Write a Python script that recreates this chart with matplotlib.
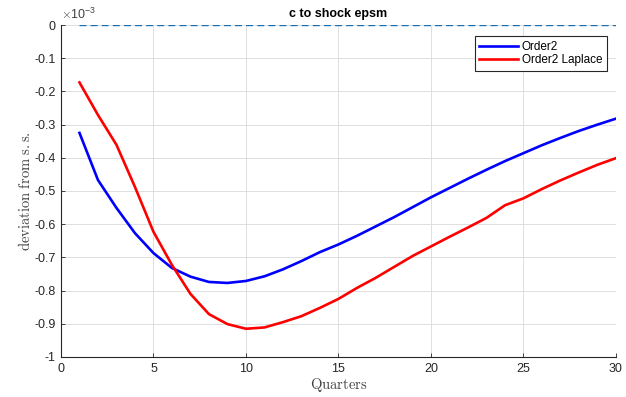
import numpy as np
import matplotlib
matplotlib.use('Agg')
import matplotlib.pyplot as plt

# impulse response values, in units of 1e-3
quarters = list(range(1, 31))
order2 = [-0.325, -0.467, -0.551, -0.627, -0.687, -0.732, -0.758, -0.774, -0.777, -0.771,
          -0.757, -0.736, -0.711, -0.684, -0.661, -0.635, -0.607, -0.579, -0.549, -0.519,
          -0.491, -0.463, -0.436, -0.410, -0.386, -0.362, -0.340, -0.319, -0.300, -0.282]
order2_laplace = [-0.173, -0.271, -0.361, -0.488, -0.623, -0.723, -0.810, -0.871, -0.901, -0.915,
                  -0.911, -0.895, -0.877, -0.852, -0.825, -0.792, -0.762, -0.729, -0.696, -0.667,
                  -0.638, -0.610, -0.581, -0.543, -0.522, -0.494, -0.468, -0.444, -0.421, -0.401]
steady_state = [0.0] * len(quarters)

xticks = [0, 5, 10, 15, 20, 25, 30]
yticks = [0, -0.1, -0.2, -0.3, -0.4, -0.5, -0.6, -0.7, -0.8, -0.9, -1]
ytick_labels = ['0', '-0.1', '-0.2', '-0.3', '-0.4', '-0.5', '-0.6', '-0.7', '-0.8', '-0.9', '-1']

plt.rcParams['font.family'] = ['Liberation Sans', 'DejaVu Sans']
plt.rcParams['mathtext.fontset'] = 'cm'

fig = plt.figure(figsize=(6.26, 3.97), dpi=100)
ax = fig.add_axes([0.0974, 0.1008, 0.8866, 0.8362])

ax.plot(quarters, order2, color='#0000ff', linewidth=1.9, label='Order2')
ax.plot(quarters, order2_laplace, color='#ff0000', linewidth=1.9, label='Order2 Laplace')
ax.plot(quarters, steady_state, color='#1a6fb0', linewidth=1.0, linestyle=(0, (5, 3)))

ax.set_xlim(0, 30)
ax.set_ylim(-1, 0)
ax.set_xticks(xticks)
ax.set_yticks(yticks)
ax.set_yticklabels(ytick_labels)

ax.grid(True, color='#dedede', linewidth=0.7)
ax.set_axisbelow(True)
for s in ['top', 'right']:
    ax.spines[s].set_visible(False)
for s in ['left', 'bottom']:
    ax.spines[s].set_color('#262626')
    ax.spines[s].set_linewidth(0.8)
ax.tick_params(direction='in', length=3, width=0.6, colors='#262626',
               labelsize=9, labelcolor='#262626', pad=4)

ax.set_title('c to shock epsm', fontsize=9, fontweight='bold', pad=6)
ax.set_xlabel(r'$\mathrm{Quarters}$', fontsize=10.5, labelpad=1, color='#404040')
ax.set_ylabel(r'$\mathrm{deviation\ from\ s.s.}$', fontsize=10.5, labelpad=1, color='#404040')
ax.text(0.0, 1.008, r'$\times\mathregular{10^{-3}}$', transform=ax.transAxes,
        fontsize=9, color='#404040', ha='left', va='bottom')

leg = ax.legend(loc='upper right', bbox_to_anchor=(0.984, 0.967), fontsize=8.5,
                fancybox=False, framealpha=1, edgecolor='#262626',
                handlelength=3.3, borderpad=0.4, labelspacing=0.15, handletextpad=0.3,
                borderaxespad=0)
leg.get_frame().set_linewidth(0.8)

fig.savefig('out.png', dpi=100)
